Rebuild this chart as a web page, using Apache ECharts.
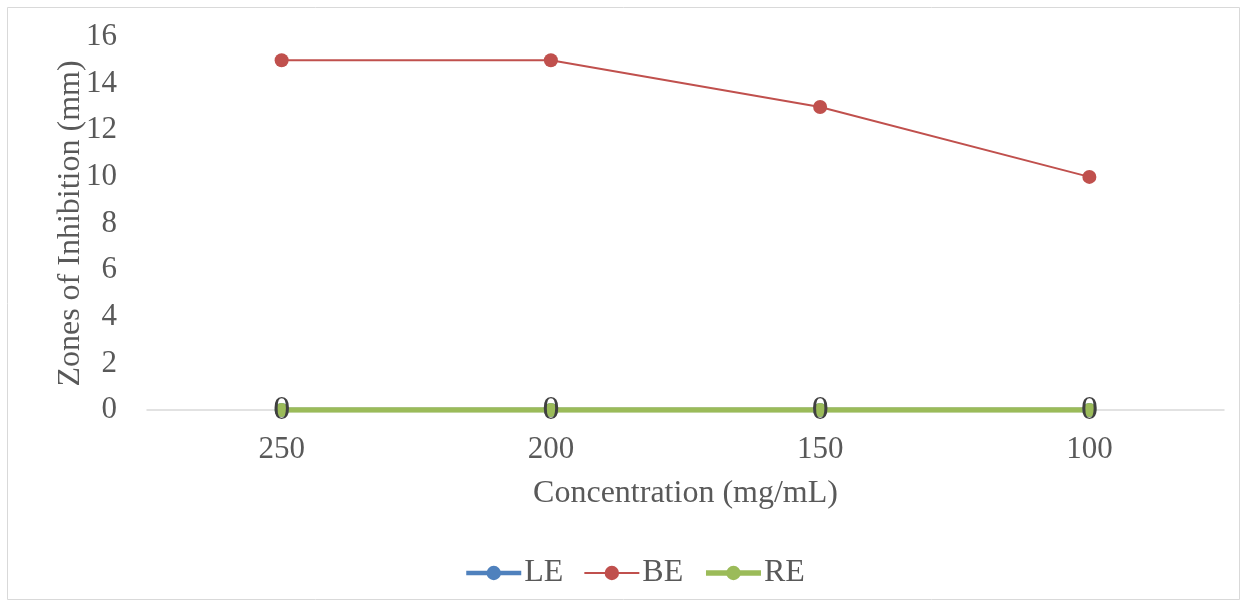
<!DOCTYPE html>
<html><head><meta charset="utf-8">
<script src="https://cdn.jsdelivr.net/npm/echarts@6/dist/echarts.min.js"></script>
<style>html,body{margin:0;padding:0;background:#fff}#c{width:1246px;height:605px}</style>
</head><body><div id="c"></div>
<script>
const categories = ['250', '200', '150', '100'];
const seriesNames = ['LE', 'BE', 'RE'];
const leValues = [0, 0, 0, 0];
const beValues = [15, 15, 13, 10];
const reValues = [0, 0, 0, 0];
const yTicks = {min: 0, max: 16, interval: 2};

const font = 'Liberation Serif, Times New Roman, serif';
const txt = '#595959';
const colors = {LE: '#4F81BD', BE: '#C0504D', RE: '#9BBB59'};
const widths = {LE: 4.5, BE: 2, RE: 5.5};
const chart = echarts.init(document.getElementById('c'));
chart.setOption({
  animation: false,
  backgroundColor: '#fff',
  graphic: [{type: 'rect', shape: {x: 7.5, y: 7.5, width: 1232, height: 592}, style: {fill: 'none', stroke: '#d9d9d9', lineWidth: 1}, silent: true, z: -1}],
  grid: {left: 147, right: 22, top: 37, bottom: 195},
  legend: {
    bottom: 11, left: 459, itemWidth: 55, itemHeight: 18, itemGap: 20,
    textStyle: {fontFamily: font, fontSize: 32, color: txt, padding: [0, 0, 0, -2]},
    data: seriesNames.map(n => ({name: n, lineStyle: {width: widths[n], color: colors[n]}}))
  },
  xAxis: {
    type: 'category', data: categories, boundaryGap: true,
    name: 'Concentration (mg/mL)', nameLocation: 'middle', nameGap: 68, nameMoveOverlap: false,
    nameTextStyle: {fontFamily: font, fontSize: 32, color: txt},
    axisLine: {lineStyle: {color: '#d9d9d9', width: 1.5}},
    axisTick: {show: false},
    axisLabel: {fontFamily: font, fontSize: 31, color: txt, margin: 24}
  },
  yAxis: {
    type: 'value', min: yTicks.min, max: yTicks.max, interval: yTicks.interval,
    name: 'Zones of Inhibition (mm)', nameLocation: 'middle', nameGap: 60, nameMoveOverlap: false,
    nameTextStyle: {fontFamily: font, fontSize: 32, color: txt},
    axisLine: {show: false}, axisTick: {show: false}, splitLine: {show: false},
    axisLabel: {fontFamily: font, fontSize: 31, color: txt, margin: 30}
  },
  series: [
    {name: 'LE', type: 'line', data: leValues, symbol: 'circle', symbolSize: 14,
     itemStyle: {color: colors.LE}, lineStyle: {width: widths.LE, color: colors.LE}},
    {name: 'BE', type: 'line', data: beValues, symbol: 'circle', symbolSize: 14,
     itemStyle: {color: colors.BE}, lineStyle: {width: widths.BE, color: colors.BE}},
    {name: 'RE', type: 'line', data: reValues, symbol: 'circle', symbolSize: 14,
     itemStyle: {color: colors.RE}, lineStyle: {width: widths.RE, color: colors.RE},
     label: {show: true, position: 'inside', fontFamily: font, fontSize: 34, color: '#404040'}}
  ]
});
</script></body></html>
